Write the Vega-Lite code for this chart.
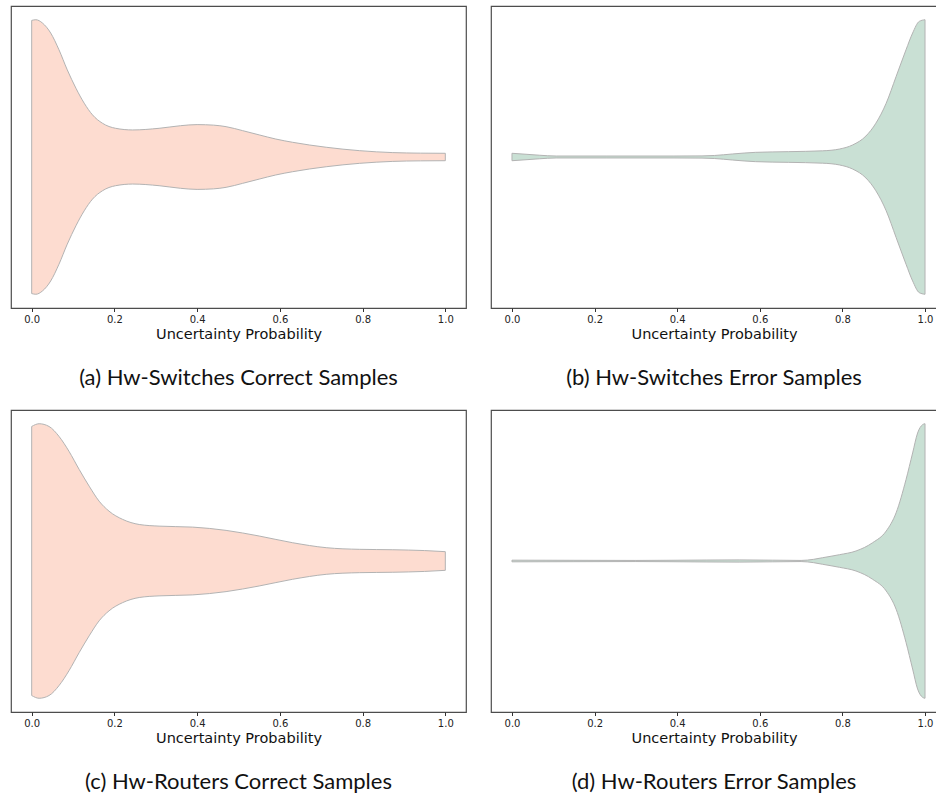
{
  "$schema": "https://vega.github.io/schema/vega-lite/v6.json",
  "padding": {"left": 10, "top": 5, "right": 0, "bottom": 0},
  "background": "white",
  "config": {
    "view": {"stroke": "#4d4d4d", "strokeWidth": 1.2},
    "axis": {
      "labelFont": "DejaVu Sans", "labelFontSize": 10, "labelColor": "#222222",
      "titleFont": "DejaVu Sans", "titleFontSize": 14.5, "titleFontWeight": "normal", "titleColor": "#111111",
      "tickColor": "#333333", "tickSize": 3.5, "labelPadding": 3, "titlePadding": 3,
      "domain": false, "grid": false
    },
    "title": {"font": "Lato", "fontSize": 22, "fontWeight": "normal", "color": "#111111", "orient": "bottom", "offset": 27}
  },
  "datasets": {
    "a": [
      {"p": 0, "hi": 0.995, "lo": -0.995}, {"p": 0.01, "hi": 1.0, "lo": -1.0}, {"p": 0.026, "hi": 0.976, "lo": -0.976},
      {"p": 0.046, "hi": 0.903, "lo": -0.903}, {"p": 0.066, "hi": 0.781, "lo": -0.781}, {"p": 0.086, "hi": 0.635, "lo": -0.635},
      {"p": 0.107, "hi": 0.501, "lo": -0.501}, {"p": 0.127, "hi": 0.392, "lo": -0.392}, {"p": 0.147, "hi": 0.307, "lo": -0.307},
      {"p": 0.171, "hi": 0.246, "lo": -0.246}, {"p": 0.203, "hi": 0.209, "lo": -0.209}, {"p": 0.244, "hi": 0.197, "lo": -0.197},
      {"p": 0.308, "hi": 0.209, "lo": -0.209}, {"p": 0.36, "hi": 0.228, "lo": -0.228}, {"p": 0.4, "hi": 0.236, "lo": -0.236},
      {"p": 0.44, "hi": 0.232, "lo": -0.232}, {"p": 0.47, "hi": 0.221, "lo": -0.221}, {"p": 0.51, "hi": 0.192, "lo": -0.192},
      {"p": 0.55, "hi": 0.161, "lo": -0.161}, {"p": 0.59, "hi": 0.131, "lo": -0.131}, {"p": 0.631, "hi": 0.107, "lo": -0.107},
      {"p": 0.712, "hi": 0.071, "lo": -0.071}, {"p": 0.793, "hi": 0.046, "lo": -0.046}, {"p": 0.873, "hi": 0.032, "lo": -0.032},
      {"p": 0.94, "hi": 0.028, "lo": -0.028}, {"p": 1.0, "hi": 0.027, "lo": -0.027}
    ],
    "b": [
      {"p": 0, "hi": 0.027, "lo": -0.027}, {"p": 0.034, "hi": 0.02, "lo": -0.02}, {"p": 0.066, "hi": 0.013, "lo": -0.013},
      {"p": 0.107, "hi": 0.007, "lo": -0.007}, {"p": 0.23, "hi": 0.007, "lo": -0.007}, {"p": 0.39, "hi": 0.007, "lo": -0.007},
      {"p": 0.46, "hi": 0.008, "lo": -0.008}, {"p": 0.49, "hi": 0.011, "lo": -0.011}, {"p": 0.534, "hi": 0.022, "lo": -0.022},
      {"p": 0.59, "hi": 0.034, "lo": -0.034}, {"p": 0.67, "hi": 0.039, "lo": -0.039}, {"p": 0.752, "hi": 0.045, "lo": -0.045},
      {"p": 0.793, "hi": 0.058, "lo": -0.058}, {"p": 0.825, "hi": 0.088, "lo": -0.088}, {"p": 0.857, "hi": 0.153, "lo": -0.153},
      {"p": 0.881, "hi": 0.246, "lo": -0.246}, {"p": 0.906, "hi": 0.392, "lo": -0.392}, {"p": 0.93, "hi": 0.586, "lo": -0.586},
      {"p": 0.954, "hi": 0.781, "lo": -0.781}, {"p": 0.97, "hi": 0.903, "lo": -0.903}, {"p": 0.986, "hi": 0.988, "lo": -0.988},
      {"p": 1.0, "hi": 1.0, "lo": -1.0}
    ],
    "c": [
      {"p": 0, "hi": 0.98, "lo": -0.98}, {"p": 0.018, "hi": 1.0, "lo": -1.0}, {"p": 0.042, "hi": 0.98, "lo": -0.98},
      {"p": 0.066, "hi": 0.908, "lo": -0.908}, {"p": 0.09, "hi": 0.8, "lo": -0.8}, {"p": 0.115, "hi": 0.666, "lo": -0.666},
      {"p": 0.139, "hi": 0.545, "lo": -0.545}, {"p": 0.163, "hi": 0.436, "lo": -0.436}, {"p": 0.187, "hi": 0.363, "lo": -0.363},
      {"p": 0.22, "hi": 0.303, "lo": -0.303}, {"p": 0.26, "hi": 0.266, "lo": -0.266}, {"p": 0.308, "hi": 0.254, "lo": -0.254},
      {"p": 0.389, "hi": 0.247, "lo": -0.247}, {"p": 0.47, "hi": 0.223, "lo": -0.223}, {"p": 0.55, "hi": 0.182, "lo": -0.182},
      {"p": 0.631, "hi": 0.133, "lo": -0.133}, {"p": 0.712, "hi": 0.097, "lo": -0.097}, {"p": 0.793, "hi": 0.085, "lo": -0.085},
      {"p": 0.873, "hi": 0.082, "lo": -0.082}, {"p": 0.95, "hi": 0.076, "lo": -0.076}, {"p": 1.0, "hi": 0.068, "lo": -0.068}
    ],
    "d": [
      {"p": 0, "hi": 0.006, "lo": -0.006}, {"p": 0.15, "hi": 0.005, "lo": -0.005}, {"p": 0.3, "hi": 0.004, "lo": -0.004},
      {"p": 0.47, "hi": 0.007, "lo": -0.007}, {"p": 0.55, "hi": 0.008, "lo": -0.008}, {"p": 0.63, "hi": 0.006, "lo": -0.006},
      {"p": 0.7, "hi": 0.004, "lo": -0.004}, {"p": 0.73, "hi": 0.012, "lo": -0.012}, {"p": 0.752, "hi": 0.024, "lo": -0.024},
      {"p": 0.793, "hi": 0.046, "lo": -0.046}, {"p": 0.833, "hi": 0.073, "lo": -0.073}, {"p": 0.873, "hi": 0.133, "lo": -0.133},
      {"p": 0.906, "hi": 0.218, "lo": -0.218}, {"p": 0.93, "hi": 0.351, "lo": -0.351}, {"p": 0.954, "hi": 0.593, "lo": -0.593},
      {"p": 0.97, "hi": 0.787, "lo": -0.787}, {"p": 0.982, "hi": 0.932, "lo": -0.932}, {"p": 0.994, "hi": 0.993, "lo": -0.993},
      {"p": 1.0, "hi": 1.0, "lo": -1.0}
    ]
  },
  "concat": [
    {
      "width": 455, "height": 302,
      "title": "(a) Hw-Switches Correct Samples",
      "data": {"name": "a"},
      "mark": {"type": "area", "interpolate": "monotone", "fill": "#fddcd0", "stroke": "#b3b3b3", "strokeWidth": 1, "fillOpacity": 1},
      "encoding": {
        "x": {"field": "p", "type": "quantitative", "scale": {"domain": [-0.05, 1.05], "nice": false, "zero": false},
              "axis": {"title": "Uncertainty Probability", "values": [0, 0.2, 0.4, 0.6, 0.8, 1.0], "format": ".1f"}},
        "y": {"field": "hi", "type": "quantitative", "scale": {"domain": [-1.1, 1.1], "nice": false}, "axis": null},
        "y2": {"field": "lo"}
      }
    },
    {
      "width": 446, "height": 302,
      "title": "(b) Hw-Switches Error Samples",
      "data": {"name": "b"},
      "mark": {"type": "area", "interpolate": "monotone", "fill": "#c9e0d4", "stroke": "#b3b3b3", "strokeWidth": 1, "fillOpacity": 1},
      "encoding": {
        "x": {"field": "p", "type": "quantitative", "scale": {"domain": [-0.0508, 1.029], "nice": false, "zero": false},
              "axis": {"title": "Uncertainty Probability", "values": [0, 0.2, 0.4, 0.6, 0.8, 1.0], "format": ".1f"}},
        "y": {"field": "hi", "type": "quantitative", "scale": {"domain": [-1.1, 1.1], "nice": false}, "axis": null},
        "y2": {"field": "lo"}
      }
    },
    {
      "width": 455, "height": 302,
      "title": "(c) Hw-Routers Correct Samples",
      "data": {"name": "c"},
      "mark": {"type": "area", "interpolate": "monotone", "fill": "#fddcd0", "stroke": "#b3b3b3", "strokeWidth": 1, "fillOpacity": 1},
      "encoding": {
        "x": {"field": "p", "type": "quantitative", "scale": {"domain": [-0.05, 1.05], "nice": false, "zero": false},
              "axis": {"title": "Uncertainty Probability", "values": [0, 0.2, 0.4, 0.6, 0.8, 1.0], "format": ".1f"}},
        "y": {"field": "hi", "type": "quantitative", "scale": {"domain": [-1.1, 1.1], "nice": false}, "axis": null},
        "y2": {"field": "lo"}
      }
    },
    {
      "width": 446, "height": 302,
      "title": "(d) Hw-Routers Error Samples",
      "data": {"name": "d"},
      "mark": {"type": "area", "interpolate": "monotone", "fill": "#c9e0d4", "stroke": "#b3b3b3", "strokeWidth": 1, "fillOpacity": 1},
      "encoding": {
        "x": {"field": "p", "type": "quantitative", "scale": {"domain": [-0.0508, 1.029], "nice": false, "zero": false},
              "axis": {"title": "Uncertainty Probability", "values": [0, 0.2, 0.4, 0.6, 0.8, 1.0], "format": ".1f"}},
        "y": {"field": "hi", "type": "quantitative", "scale": {"domain": [-1.1, 1.1], "nice": false}, "axis": null},
        "y2": {"field": "lo"}
      }
    }
  ],
  "columns": 2,
  "bounds": "flush",
  "spacing": {"row": 102, "column": 25}
}
